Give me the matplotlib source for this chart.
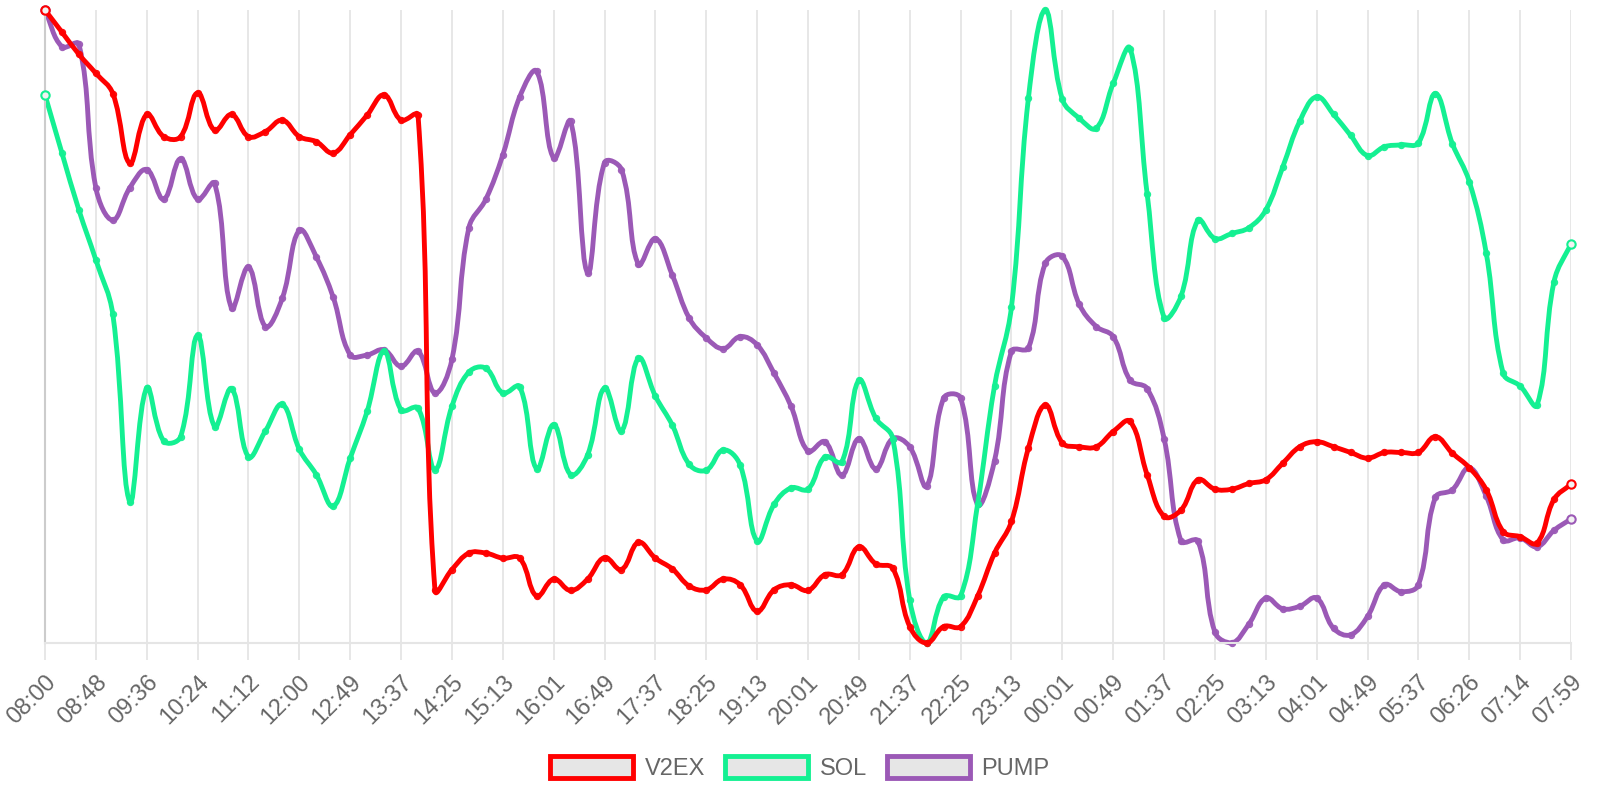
import numpy as np
import matplotlib
matplotlib.use("Agg")
import matplotlib.pyplot as plt
from matplotlib.path import Path
from matplotlib.patches import PathPatch, Patch

plt.rcParams['font.family'] = ['Liberation Sans', 'DejaVu Sans']

# tick labels shown on the x axis (every third sample)
tick_labels = ['08:00', '08:48', '09:36', '10:24', '11:12', '12:00', '12:49', '13:37',
               '14:25', '15:13', '16:01', '16:49', '17:37', '18:25', '19:13', '20:01',
               '20:49', '21:37', '22:25', '23:13', '00:01', '00:49', '01:37', '02:25',
               '03:13', '04:01', '04:49', '05:37', '06:26', '07:14', '07:59']

# normalised series (0-100), one sample every ~16 minutes
v2ex = [100, 96.5, 93.0, 90.0, 86.8, 75.8, 83.5, 80.0, 80.0, 86.9, 81.0, 83.5, 80.0, 80.8, 82.6,
        80.0, 79.2, 77.4, 80.3, 83.4, 86.6, 82.6, 83.4, 8.3, 11.6, 14.2, 14.2, 13.4, 13.4, 7.4,
        10.1, 8.3, 10.1, 13.5, 11.6, 15.9, 13.4, 11.7, 9.0, 8.4, 10.1, 9.2, 5.0, 8.4, 9.2,
        8.3, 10.8, 10.8, 15.2, 12.5, 11.8, 2.6, 0, 2.6, 2.6, 7.4, 14.2, 19.2, 30.8,
        37.6, 31.6, 31.0, 31.0, 33.4, 35.0, 26.6, 20.0, 21.0, 25.8, 24.3, 24.3, 25.2, 25.8, 28.4,
        31.0, 31.8, 31.0, 30.1, 29.2, 30.1, 30.1, 30.1, 32.6, 30.0, 27.7, 24.2, 17.6, 16.8, 15.8,
        22.7, 25.1]

sol = [86.6, 77.4, 68.4, 60.5, 51.9, 22.3, 40.3, 31.9, 32.6, 48.6, 34.2, 40.2, 29.4, 33.5, 37.7,
       30.6, 26.6, 21.6, 29.2, 36.6, 46.1, 36.8, 37.1, 27.4, 37.4, 42.8, 43.4, 39.5, 40.5, 27.5,
       34.5, 26.6, 29.7, 40.3, 33.5, 45.0, 39.0, 34.4, 28.2, 27.3, 30.5, 28.1, 16.1, 21.9, 24.5,
       24.3, 29.4, 28.6, 41.5, 35.5, 32.3, 6.8, 0, 7.3, 7.4, 21.9, 40.6, 53.1, 86.1,
       100, 85.9, 82.9, 81.3, 88.4, 93.9, 71.0, 51.4, 54.8, 66.8, 63.9, 64.7, 65.6, 68.4, 75.2,
       82.4, 86.3, 83.5, 80.2, 77.0, 78.4, 78.7, 79.0, 86.8, 78.9, 72.9, 61.6, 42.6, 40.6, 37.6,
       57.1, 63.1]

pump = [100, 94.2, 94.6, 71.9, 66.8, 71.9, 74.8, 70.1, 76.5, 70.1, 72.6, 52.9, 59.4, 50.0, 54.5,
        65.2, 61.0, 54.6, 45.5, 45.5, 46.3, 43.7, 46.1, 39.5, 44.8, 65.6, 70.1, 77.1, 86.3, 90.3,
        76.6, 82.4, 58.5, 75.9, 74.8, 59.8, 63.9, 58.1, 51.3, 48.2, 46.5, 48.4, 47.1, 42.6, 37.4,
        30.3, 31.8, 26.5, 32.3, 27.5, 32.3, 31.0, 24.8, 38.7, 38.7, 21.9, 28.8, 46.1, 46.6,
        60.0, 61.1, 53.5, 50.0, 48.4, 41.5, 40.2, 32.3, 16.1, 16.1, 1.7, 0, 3.0, 7.1, 5.4,
        5.8, 7.1, 2.3, 1.3, 4.2, 9.2, 8.1, 9.2, 23.0, 24.2, 27.7, 23.2, 16.3, 16.6, 15.2,
        17.8, 19.6]

series = [('V2EX', v2ex, '#ff0000'), ('SOL', sol, '#14f092'), ('PUMP', pump, '#9b59b6')]

W, H = 1600, 800
ax_left, ax_right, ax_top, ax_bottom = 45, 1571, 10, 643


def spline_path(y, sx, sy, tension=0.4):
    """Chart.js style bezier through the points, distances measured in pixels."""
    n = len(y)
    x = np.arange(n, dtype=float)
    y = np.asarray(y, dtype=float)
    px, py = x * sx, y * sy
    cp_prev = np.zeros((n, 2))
    cp_next = np.zeros((n, 2))
    for i in range(n):
        a = i - 1 if i > 0 else i
        c = i + 1 if i < n - 1 else i
        d01 = np.hypot(px[i] - px[a], py[i] - py[a])
        d12 = np.hypot(px[c] - px[i], py[c] - py[i])
        tot = d01 + d12
        s01 = d01 / tot if tot else 0
        s12 = d12 / tot if tot else 0
        fa, fb = tension * s01, tension * s12
        cp_prev[i] = [px[i] - fa * (px[c] - px[a]), py[i] - fa * (py[c] - py[a])]
        cp_next[i] = [px[i] + fb * (px[c] - px[a]), py[i] + fb * (py[c] - py[a])]
    # keep control points inside the chart area
    for cp in (cp_prev, cp_next):
        cp[:, 0] = np.clip(cp[:, 0], 0, (n - 1) * sx)
        cp[:, 1] = np.clip(cp[:, 1], 0, 100 * sy)
    verts = [(x[0], y[0])]
    codes = [Path.MOVETO]
    for i in range(n - 1):
        verts += [(cp_next[i, 0] / sx, cp_next[i, 1] / sy),
                  (cp_prev[i + 1, 0] / sx, cp_prev[i + 1, 1] / sy),
                  (x[i + 1], y[i + 1])]
        codes += [Path.CURVE4] * 3
    return Path(verts, codes)


fig = plt.figure(figsize=(16, 8), dpi=100)
ax = fig.add_axes([ax_left / W, 1 - ax_bottom / H, (ax_right - ax_left) / W, (ax_bottom - ax_top) / H])

n = len(v2ex)
ax.set_xlim(0, n - 1)
ax.set_ylim(0, 100)
sx = (ax_right - ax_left) / (n - 1)
sy = (ax_bottom - ax_top) / 100.0

for k, (name, vals, col) in enumerate(series):
    z = 3 - k
    patch = PathPatch(spline_path(vals, sx, sy), facecolor='none', edgecolor=col,
                      lw=3.5, zorder=z + 0.5, capstyle='round', joinstyle='round', clip_on=False)
    ax.add_patch(patch)
    # inner points: small filled dots
    ax.plot(range(1, n - 1), vals[1:-1], linestyle='none', marker='o', ms=4.5, mec=col,
            mfc=col, mew=0.8, alpha=0.9, zorder=z + 0.6, clip_on=False)
    # end points: hollow rings
    ax.plot([0, n - 1], [vals[0], vals[-1]], linestyle='none', marker='o', ms=6, mec=col,
            mfc='#f2f2f2', mew=1.5, zorder=z + 0.7, clip_on=False)

# axes styling
tick_pos = list(range(0, n, 3))
ax.set_xticks(tick_pos)
ax.set_xticklabels(tick_labels, rotation=45, ha='right', rotation_mode='anchor',
                   color='#666666', fontsize=17)
ax.tick_params(axis='x', length=12, width=1.3, color='#e5e5e5', pad=8)
ax.set_yticks([])
ax.grid(axis='x', color='#e5e5e5', lw=1.3)
ax.set_axisbelow(True)
for s in ['top', 'right']:
    ax.spines[s].set_visible(False)
ax.spines['bottom'].set_color('#e5e5e5')
ax.spines['bottom'].set_linewidth(1.5)
ax.spines['left'].set_color('#cccccc')
ax.spines['left'].set_linewidth(1.5)

handles = [Patch(facecolor='#e6e6e6', edgecolor=col, linewidth=3.5, label=name)
           for name, _, col in series]
leg = fig.legend(handles=handles, loc='center', bbox_to_anchor=(0.5, 1 - 768 / H), ncol=3,
                 frameon=False, fontsize=17, handlelength=3.5, handleheight=1.05,
                 handletextpad=0.5, columnspacing=0.85, borderaxespad=0)
for t in leg.get_texts():
    t.set_color('#666666')

fig.savefig('out.png', dpi=100)
